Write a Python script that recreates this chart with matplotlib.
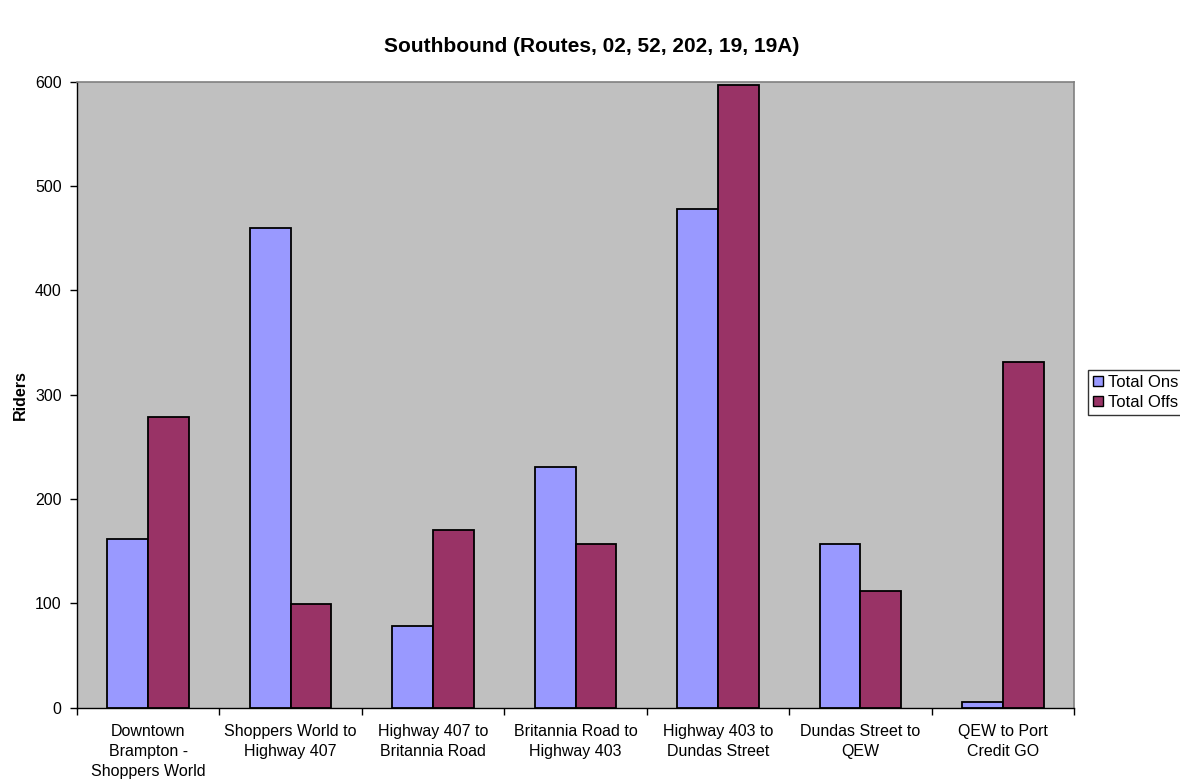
import matplotlib
matplotlib.use("Agg")
import matplotlib.pyplot as plt
import numpy as np

plt.rcParams['font.family'] = ['Liberation Sans', 'DejaVu Sans']

# Segment ridership, southbound trips
categories = [
    "Downtown\nBrampton -\nShoppers World",
    "Shoppers World to\nHighway 407",
    "Highway 407 to\nBritannia Road",
    "Britannia Road to\nHighway 403",
    "Highway 403 to\nDundas Street",
    "Dundas Street to\nQEW",
    "QEW to Port\nCredit GO",
]
total_ons = [162, 460, 78, 231, 478, 157, 5]
total_offs = [279, 99, 170, 157, 597, 112, 331]
series_names = ["Total Ons", "Total Offs"]
y_ticks = [0, 100, 200, 300, 400, 500, 600]

W, H = 1180, 781
fig = plt.figure(figsize=(W / 100, H / 100), dpi=100)
ax = fig.add_axes([77 / W, 1 - 707.7 / H, (1074 - 77) / W, (707.7 - 81.5) / H])
ax.set_facecolor("#C0C0C0")

x = np.arange(len(categories))
bw = 0.286
ax.bar(x - bw / 2, total_ons, bw, color="#9999FF", edgecolor="black",
       linewidth=1.3, label=series_names[0], zorder=3)
ax.bar(x + bw / 2, total_offs, bw, color="#993366", edgecolor="black",
       linewidth=1.3, label=series_names[1], zorder=3)

ax.set_xlim(-0.5, len(categories) - 0.5)
ax.set_ylim(0, 600)
ax.set_yticks(y_ticks)
ax.tick_params(axis="y", direction="out", length=5, width=1, pad=6,
               labelsize=11.5, colors="black")

# boundary ticks between categories, labels centred under each group
ax.set_xticks(np.arange(len(categories) + 1) - 0.5)
ax.set_xticklabels([])
ax.tick_params(axis="x", which="major", direction="out", length=5, width=1)
ax.set_xticks(x, minor=True)
ax.set_xticklabels(categories, minor=True, fontsize=11.5, linespacing=1.4)
ax.tick_params(axis="x", which="minor", length=0, pad=12)

for side in ("top", "right"):
    ax.spines[side].set_color("#808080")
    ax.spines[side].set_linewidth(1.2)
for side in ("left", "bottom"):
    ax.spines[side].set_color("black")
    ax.spines[side].set_linewidth(1)

ax.set_ylabel("Riders", fontsize=11.5, fontweight="bold")
ax.yaxis.set_label_coords(-0.049, 0.5)

fig.text(592 / W, 1 - 47 / H, "Southbound (Routes, 02, 52, 202, 19, 19A)",
         ha="center", va="center", fontsize=15, fontweight="bold")

leg = fig.legend(loc="upper left", bbox_to_anchor=(1088 / W, 1 - 370 / H),
                 fontsize=12, frameon=True, fancybox=False, shadow=False,
                 handlelength=0.6, handleheight=0.6, handletextpad=0.3,
                 borderpad=0.3, labelspacing=0.3, borderaxespad=0)
leg.get_frame().set_edgecolor("black")
leg.get_frame().set_linewidth(1)
for h in leg.legend_handles:
    h.set_linewidth(1)

fig.savefig("out.png", dpi=100)
